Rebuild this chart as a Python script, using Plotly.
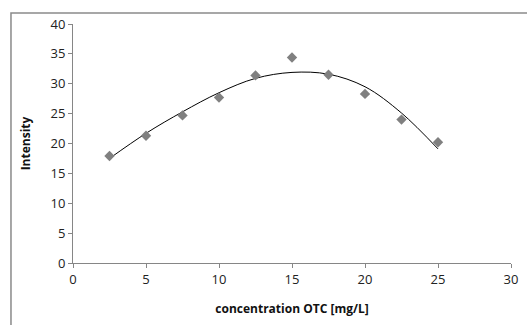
import plotly.graph_objects as go

concentration = [2.5, 5, 7.5, 10, 12.5, 15, 17.5, 20, 22.5, 25]
intensity = [17.9, 21.3, 24.7, 27.7, 31.4, 34.4, 31.5, 28.3, 24.0, 20.2]
trend_values = [17.5, 21.7, 25.3, 28.5, 30.9, 31.9, 31.6, 29.5, 25.1, 19.1]
x_ticks = [0, 5, 10, 15, 20, 25, 30]
y_ticks = [0, 5, 10, 15, 20, 25, 30, 35, 40]

FONT = "Open Sans"
AXIS_COLOR = "#868686"

fig = go.Figure()
fig.add_trace(go.Scatter(
    x=concentration, y=trend_values, mode="lines",
    line=dict(color="black", width=1, shape="spline"),
    showlegend=False, hoverinfo="skip",
))
fig.add_trace(go.Scatter(
    x=concentration, y=intensity, mode="markers",
    marker=dict(symbol="diamond", size=8, color="#808080"),
    showlegend=False,
))

fig.update_layout(
    width=527, height=325,
    margin=dict(l=73, r=16, t=24, b=62, autoexpand=False),
    paper_bgcolor="white", plot_bgcolor="white",
    font=dict(family=FONT, size=13, color="#222222"),
    xaxis=dict(
        range=[0, 30], tickvals=x_ticks, showgrid=False, zeroline=False,
        automargin=False,
        showline=True, linecolor=AXIS_COLOR, linewidth=1,
        ticks="outside", ticklen=4, tickcolor=AXIS_COLOR,
        tickfont=dict(family=FONT, size=13, color="#222222"),
        title=dict(text="<b>concentration OTC [mg/L]</b>", standoff=18,
                   font=dict(family=FONT, size=12, color="#111111")),
    ),
    yaxis=dict(
        range=[0, 40], tickvals=y_ticks, showgrid=False, zeroline=False,
        automargin=False,
        showline=True, linecolor=AXIS_COLOR, linewidth=1,
        ticks="outside", ticklen=4, tickcolor=AXIS_COLOR,
        tickfont=dict(family=FONT, size=13, color="#222222"),
        title=dict(text="<b>Intensity</b>", standoff=17,
                   font=dict(family=FONT, size=12, color="#111111")),
    ),
    shapes=[dict(
        type="rect", xref="paper", yref="paper",
        x0=-0.1416, x1=1.2, y0=-0.5, y1=1.046,
        line=dict(color="#8a8a8a", width=1.5), layer="below",
    )],
)

fig.write_html(
    "out.html",
    config={"displayModeBar": False},
    post_script="document.body.style.margin='0';document.body.style.padding='0';",
)
